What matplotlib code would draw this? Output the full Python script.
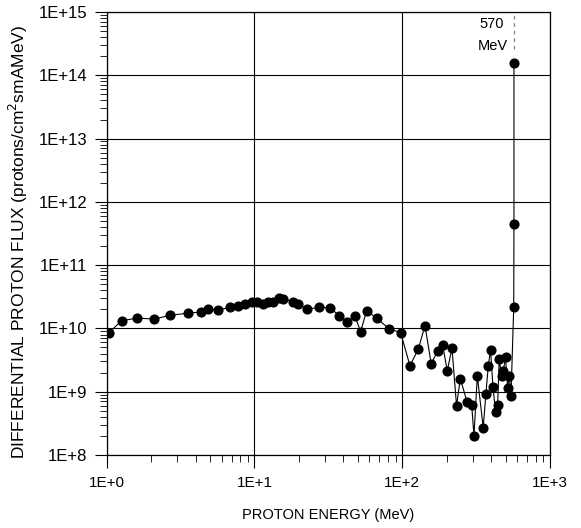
import matplotlib
matplotlib.use("Agg")
from matplotlib import pyplot as plt
from matplotlib.ticker import LogLocator, FixedLocator, NullFormatter
import numpy as np

plt.rcParams['font.family'] = ['Liberation Sans', 'DejaVu Sans']

# proton energy (MeV) and differential flux
energy = [1.03, 1.26, 1.61, 2.1, 2.69, 3.53, 4.35, 4.82, 5.63, 6.86, 7.77,
          8.63, 9.57, 10.35, 11.5, 12.4, 13.4, 14.7, 15.7, 18.1, 19.8, 22.6,
          27.5, 32.4, 37.5, 42.5, 47.6, 52.3, 57.4, 67.1, 81.7, 97.5, 112.7,
          128.3, 142.5, 157, 173.6, 187.7, 201.6, 217, 233, 247, 275, 295,
          305.6, 322, 353, 368, 382, 396, 411, 428, 442, 453, 470, 482, 500,
          516, 530, 544, 568, 570, 570]
flux = [8.4e9, 1.33e10, 1.45e10, 1.41e10, 1.61e10, 1.74e10, 1.82e10, 2.03e10,
        1.96e10, 2.14e10, 2.29e10, 2.44e10, 2.65e10, 2.65e10, 2.44e10,
        2.57e10, 2.57e10, 3.0e10, 2.95e10, 2.65e10, 2.41e10, 2.01e10,
        2.16e10, 2.11e10, 1.59e10, 1.28e10, 1.59e10, 8.9e9, 1.91e10,
        1.45e10, 9.8e9, 8.6e9, 2.58e9, 4.69e9, 1.11e10, 2.75e9, 4.42e9,
        5.43e9, 2.13e9, 4.87e9, 5.97e8, 1.61e9, 6.8e8, 6.2e8, 2.0e8, 1.78e9,
        2.71e8, 9.2e8, 2.56e9, 4.57e9, 1.17e9, 4.8e8, 6.25e8, 3.26e9, 1.78e9,
        2.11e9, 3.51e9, 1.16e9, 1.8e9, 8.4e8, 2.16e10, 4.48e11, 1.58e14]

marker_energy = 570
x_ticks = [1, 10, 100, 1000]
x_labels = ['1E+0', '1E+1', '1E+2', '1E+3']
y_ticks = [1e8, 1e9, 1e10, 1e11, 1e12, 1e13, 1e14, 1e15]
y_labels = ['1E+8', '1E+9', '1E+10', '1E+11', '1E+12', '1E+13', '1E+14', '1E+15']

fig = plt.figure(figsize=(5.81, 5.28), dpi=100)
ax = fig.add_axes([0.1837, 0.1383, 0.763, 0.839])

ax.plot(energy, flux, color='black', lw=0.8, marker='o', ms=6.3,
        markerfacecolor='black', markeredgecolor='black', zorder=3)

ax.set_xscale('log')
ax.set_yscale('log')
ax.set_xlim(1, 1000)
ax.set_ylim(1e8, 1e15)

ax.xaxis.set_major_locator(FixedLocator(x_ticks))
ax.set_xticklabels(x_labels)
ax.yaxis.set_major_locator(FixedLocator(y_ticks))
ax.set_yticklabels(y_labels)
ax.xaxis.set_minor_locator(LogLocator(base=10, subs=np.arange(2, 10)))
ax.yaxis.set_minor_locator(LogLocator(base=10, subs=np.arange(2, 10), numticks=20))
ax.xaxis.set_minor_formatter(NullFormatter())
ax.yaxis.set_minor_formatter(NullFormatter())

ax.tick_params(which='major', direction='out', length=9, width=0.8)
ax.tick_params(which='minor', direction='out', length=5, width=0.6)
ax.tick_params(axis='x', which='major', labelsize=11, pad=6)
ax.tick_params(axis='y', which='major', labelsize=12, pad=5)

ax.grid(True, which='major', color='black', lw=0.8)
ax.set_axisbelow(True)
for s in ax.spines.values():
    s.set_linewidth(0.9)

# dashed marker line at 570 MeV with label
ax.plot([marker_energy, marker_energy], [2.6e14, 1e15], color='gray',
        lw=0.9, ls=(0, (3, 3)), zorder=2)
ax.text(484, 6.5e14, '570', ha='right', va='center', fontsize=10.5)
ax.text(521, 2.9e14, 'MeV', ha='right', va='center', fontsize=10.5)

ax.set_xlabel('PROTON ENERGY (MeV)', fontsize=10.5, labelpad=13)
ax.set_ylabel('DIFFERENTIAL PROTON FLUX (protons/cm$^2$smAMeV)', fontsize=12.5)
ax.yaxis.set_label_coords(-0.172, 0.482)

fig.savefig('out.png', dpi=100)
